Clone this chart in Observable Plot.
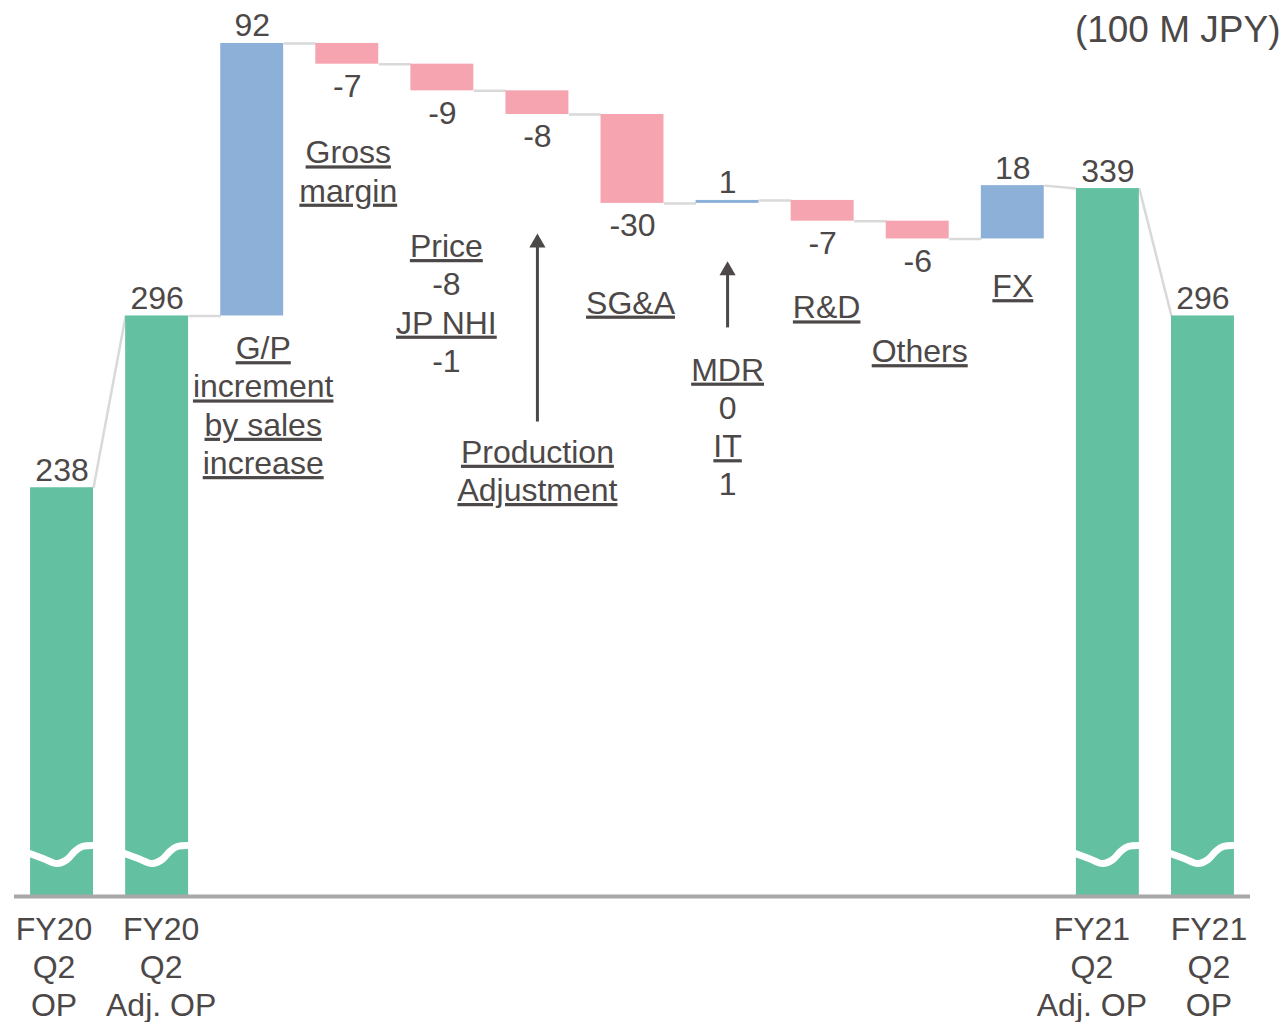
<!DOCTYPE html>
<html><head><meta charset="utf-8">
<script src="https://cdn.jsdelivr.net/npm/d3@7"></script>
<script src="https://cdn.jsdelivr.net/npm/@observablehq/plot@0.6"></script>
<style>
body{margin:0;background:#fff;}
#chart svg{display:block;}
</style></head><body><div id="chart"></div>
<script>
// ---------- data ----------
const categories = ["FY20\nQ2\nOP","FY20\nQ2\nAdj. OP","G/P increment by sales increase","Gross margin","Price / JP NHI","Production Adjustment","SG&A","MDR / IT","R&D","Others","FX","FY21\nQ2\nAdj. OP","FY21\nQ2\nOP"];
const kinds = ["total","total","delta","delta","delta","delta","delta","delta","delta","delta","delta","total","total"];
const values = [238, 296, 92, -7, -9, -8, -30, 1, -7, -6, 18, 339, 296];
const priceBreakdownNames = ["Price","JP NHI"];
const priceBreakdownValues = [-8, -1];
const mdrBreakdownNames = ["MDR","IT"];
const mdrBreakdownValues = [0, 1];
const annotationSteps = [2,3,4,5,6,7,8,9,10];
const annotationTexts = [
  "G/P\nincrement\nby sales\nincrease",
  "Gross\nmargin",
  priceBreakdownNames.map((n,k)=>n+"\n"+priceBreakdownValues[k]).join("\n"),
  "Production\nAdjustment",
  "SG&A",
  mdrBreakdownNames.map((n,k)=>n+"\n"+mdrBreakdownValues[k]).join("\n"),
  "R&D",
  "Others",
  "FX"
];
const underlined = new Set(["G/P","increment","by sales","increase","Gross","margin","Price","JP NHI","Production","Adjustment","SG&A","MDR","IT","R&D","Others","FX"]);
const unitLabel = "(100 M JPY)";

// ---------- layout / style ----------
const W = 1286, H = 1022, mL = 14, mR = 36, mT = 0, mB = 126;
const yMin = 100, yMax = 402.5;
const ppu = (H - mT - mB) / (yMax - yMin);        // px per value unit
const ppx = (W - mL - mR) / 13;                   // px per step
const hw = 0.331;                                  // half bar width (steps)
const font = "Liberation Sans, Arial, sans-serif";
const fs = 32;
const ink = "#4d4848";
const colors = {total: "#63c0a1", up: "#8db0d8", down: "#f6a4b0"};
const annDy = [16, 72, 139, 321, 83, 150, 70, 96, 31];   // px below bar low end
const annDx = [11, 1, 4, 0, -2, 0, 4, 2, 0];
const arrowSteps = [5, 7], arrowTip = [119, 58], arrowTail = [307, 124];
const bottomDx = {0: -8, 1: 4, 11: -16, 12: 6};
const waveFrac = [-0.56, -0.3, -0.08, 0.08, 0.2, 0.32, 0.56];
const waveRise = [44, 38, 33, 37, 45, 50, 51];

// ---------- waterfall ----------
let run = 0;
const steps = values.map((v, i) => {
  if (kinds[i] === "total") { run = v; return {i, lo: yMin, hi: v, start: v, end: v, kind: "total", v}; }
  const start = run, end = run + v; run = end;
  return {i, lo: Math.min(start, end), hi: Math.max(start, end), start, end, kind: v >= 0 ? "up" : "down", v};
});
const connectors = d3.range(steps.length - 1).map(i => ({
  x1: i + hw, y1: steps[i].end,
  x2: i + 1 - hw, y2: steps[i + 1].kind === "total" ? steps[i + 1].hi : steps[i + 1].start
}));
const waves = steps.filter(s => s.kind === "total").flatMap(s =>
  waveFrac.map((f, k) => ({t: s.i, x: s.i + f * 2 * hw, y: yMin + waveRise[k] / ppu})));
const annotations = annotationSteps.map((st, k) => ({
  x: st + annDx[k] / ppx, y: steps[st].lo - annDy[k] / ppu, text: annotationTexts[k]}));
const arrows = arrowSteps.map((st, k) => ({
  x: st, base: steps[st].lo - (arrowTip[k] + 10) / ppu,
  tail: steps[st].lo - arrowTail[k] / ppu, head: steps[st].lo - (arrowTip[k] + 9.2) / ppu}));
const bottomLabels = steps.filter(s => s.kind === "total").map(s => ({x: s.i + (bottomDx[s.i] || 0) / ppx, text: categories[s.i]}));

const svg = Plot.plot({
  width: W, height: H, marginLeft: mL, marginRight: mR, marginTop: mT, marginBottom: mB,
  x: {domain: [-0.5, 12.5], axis: null},
  y: {domain: [yMin, yMax], axis: null},
  style: {fontFamily: font, fontSize: fs + "px", color: ink, background: "#fff"},
  marks: [
    Plot.link(connectors, {x1: "x1", y1: "y1", x2: "x2", y2: "y2", stroke: "#d9d9d9", strokeWidth: 2.5}),
    Plot.rect(steps, {x1: d => d.i - hw, x2: d => d.i + hw, y1: "lo", y2: "hi", fill: d => colors[d.kind]}),
    Plot.line(waves, {x: "x", y: "y", z: "t", stroke: "#fff", strokeWidth: 7, curve: "catmull-rom"}),
    Plot.ruleY([yMin], {stroke: "#a8a8a8", strokeWidth: 4}),
    Plot.text(steps.filter(s => s.kind !== "down"), {x: "i", y: "hi", text: d => String(d.v), lineAnchor: "bottom", dy: -7, fontSize: fs, fill: ink}),
    Plot.text(steps.filter(s => s.kind === "down"), {x: "i", y: "lo", text: d => String(d.v), lineAnchor: "top", dy: 10, fontSize: fs, fill: ink}),
    Plot.text(annotations, {x: "x", y: "y", text: "text", lineAnchor: "top", lineHeight: 1.197, fontSize: fs, fill: ink}),
    Plot.link(arrows, {x1: "x", x2: "x", y1: "tail", y2: "base", stroke: ink, strokeWidth: 3}),
    Plot.dot(arrows, {x: "x", y: "head", symbol: "triangle", r: 6, fill: ink, stroke: null}),
    Plot.text(bottomLabels, {x: "x", y: yMin, text: "text", lineAnchor: "top", dy: 16, lineHeight: 1.19, fontSize: fs, fill: ink}),
    Plot.text([unitLabel], {frameAnchor: "top-right", textAnchor: "end", lineAnchor: "top", dx: 30, dy: 15, fontSize: 37, fill: ink})
  ]
});
d3.select(svg).selectAll("text, tspan").each(function () {
  if (this.childElementCount === 0 && underlined.has(this.textContent.trim())) {
    this.style.textDecoration = "underline";
  }
});
document.getElementById("chart").appendChild(svg);
</script></body></html>
